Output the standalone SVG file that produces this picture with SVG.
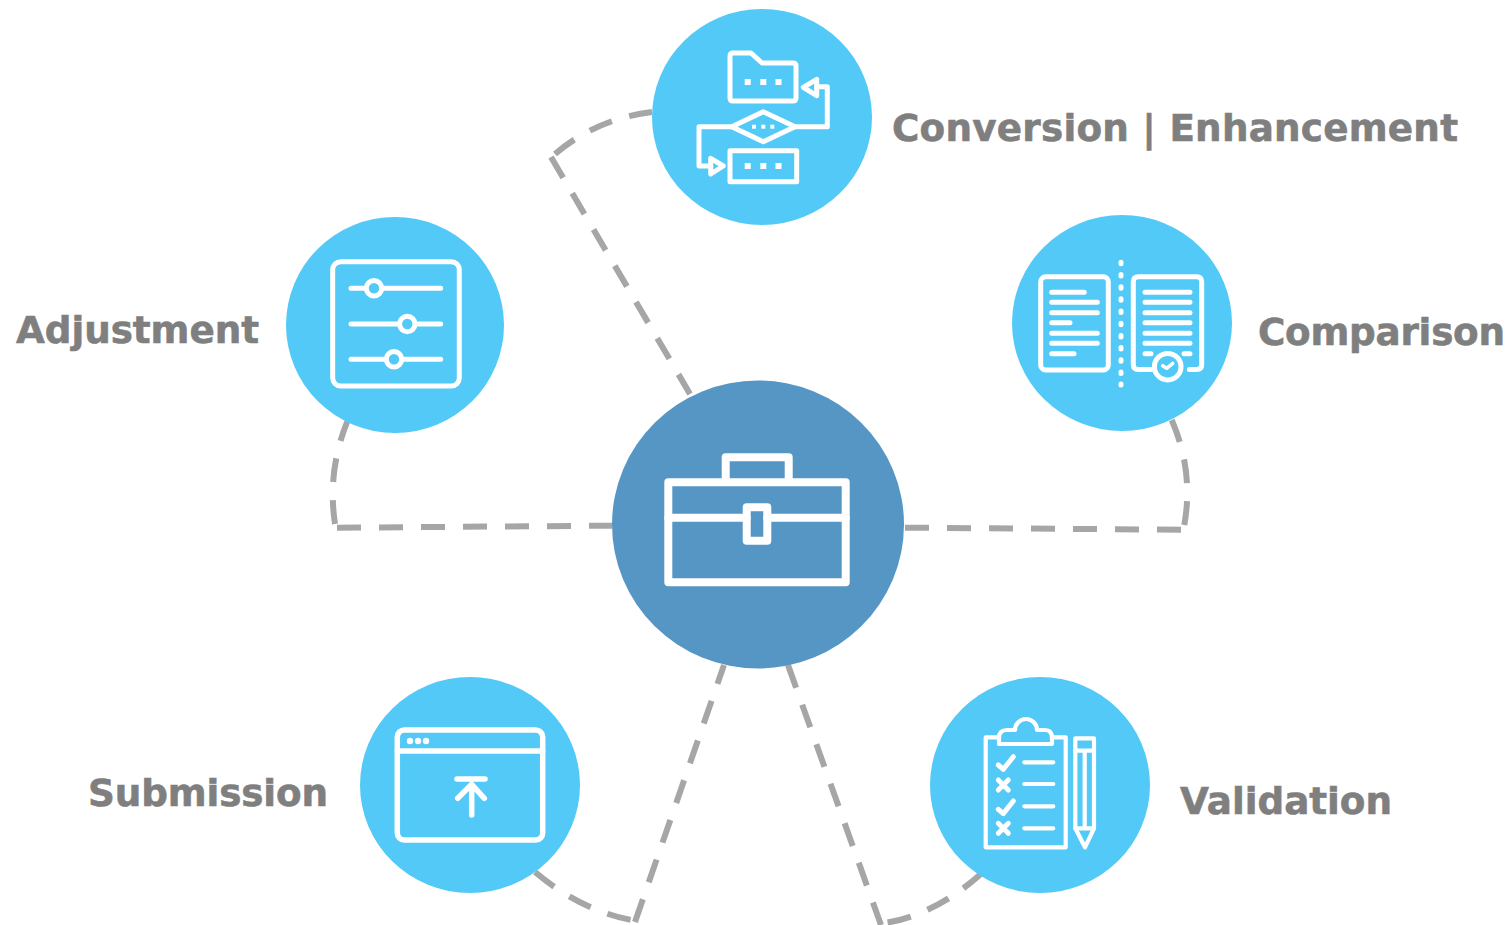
<svg xmlns="http://www.w3.org/2000/svg" width="1509" height="925" viewBox="0 0 1509 925">
<style>
.bg{fill:#fff}
.c{fill:#52c9f7}
.hub{fill:#5596c5}
.i{fill:none;stroke:#fff;stroke-width:5;stroke-linecap:round;stroke-linejoin:round}
.d{fill:#fff;stroke:none}
.t{font-family:"DejaVu Sans",Verdana,sans-serif;font-weight:700;font-size:37.3px;fill:#7f7f7f;stroke:#7f7f7f;stroke-width:.6}
.l{fill:none;stroke:#a6a6a6;stroke-width:6;stroke-dasharray:24 18}
</style>
<rect class="bg" width="1509" height="925"/>
<g id="connectors">
<path class="l" d="M551 157L690 394M555 154Q596 119 652 112"/>
<path class="l" d="M337 527.7L612 525.7M335 524Q327 471 347.3 421.7"/>
<path class="l" d="M905 527.7L1181 529.7M1184.3 525Q1194 471 1171.7 420"/>
<path class="l" d="M635 922L724 665M535 872Q580 910 631 920"/>
<path class="l" d="M881 925L788 665M982 873Q935 915 885 923"/>
</g>
<g id="hub">
<ellipse class="hub" cx="758" cy="524.5" rx="146" ry="144"/>
<g class="i" style="stroke-width:8">
<rect x="668.3" y="482.3" width="177.4" height="100"/>
<path d="M725.7 482V457.3H788.7V482"/>
<path d="M668.3 517.7H746.7M767.3 517.7H845.7"/>
<rect x="746.7" y="507.3" width="20.6" height="33.4"/>
</g>
</g>
<g id="conversion">
<ellipse class="c" cx="762" cy="117" rx="110" ry="108"/>
<g class="i">
<path d="M733 53H751L762 63H793Q796 63 796 66V98Q796 101 793 101H733Q730 101 730 98V56Q730 53 733 53Z"/>
<path d="M731.7 126.7L763.3 111.7L795 126.7L763.3 141.7Z"/>
<path d="M795 126.7H827.3V86.7H816.7"/>
<path d="M816.7 79.3L803.3 87.3L816.7 95.7Z"/>
<path d="M731.7 126.7H699V166H710.7"/>
<path d="M710.7 158.3L723.3 166L710.7 174Z"/>
<rect x="730" y="150.7" width="66.7" height="31"/>
</g>
<g class="d">
<rect x="744.7" y="79" width="6" height="6"/><rect x="760.3" y="79" width="6" height="6"/><rect x="775.5" y="79" width="6" height="6"/>
<rect x="752" y="124.7" width="4" height="4"/><rect x="761.3" y="124.7" width="4" height="4"/><rect x="770.3" y="124.7" width="4" height="4"/>
<rect x="744.7" y="163" width="6" height="6"/><rect x="760.3" y="163" width="6" height="6"/><rect x="775.5" y="163" width="6" height="6"/>
</g>
<text class="t" x="892" y="141" textLength="566" lengthAdjust="spacing">Conversion | Enhancement</text>
</g>
<g id="comparison">
<ellipse class="c" cx="1122" cy="323" rx="110" ry="108"/>
<g class="i">
<rect x="1040.7" y="276.7" width="67.6" height="93.3" rx="5"/>
<path d="M1051.7 292.3H1084.3M1051.7 302.3H1097.3M1051.7 312.7H1097.3M1051.7 322.7H1070M1051.7 333.3H1097.3M1051.7 343.3H1097.3M1051.7 353.7H1074"/>
<path d="M1153.3 369.5H1138.3Q1133.3 369.5 1133.3 364.5V281.7Q1133.3 276.7 1138.3 276.7H1196.7Q1201.7 276.7 1201.7 281.7V364.5Q1201.7 369.5 1196.7 369.5H1189.3"/>
<path d="M1145 292.3H1190M1145 302.3H1190M1145 312.7H1190M1145 322.7H1190M1145 333.3H1190M1145 343.3H1190M1145 353.7H1151M1184 353.7H1190"/>
<circle cx="1167.7" cy="366.7" r="13.3"/>
<path d="M1162.7 365.7L1166.7 368.3L1172.7 363.3" style="stroke-width:3.5"/>
<path d="M1121 262.3V385" style="stroke-dasharray:1.5 10.68"/>
</g>
<text class="t" x="1258" y="345" textLength="247" lengthAdjust="spacing">Comparison</text>
</g>
<g id="adjustment">
<ellipse class="c" cx="395" cy="325" rx="109" ry="108"/>
<g class="i">
<rect x="332.7" y="261.7" width="126.6" height="124.3" rx="8"/>
<path d="M351 288.3H440.7M351 324H440.7M351 359.3H440.7"/>
<circle cx="374" cy="288.3" r="7.7" fill="#52c9f7"/>
<circle cx="407.3" cy="324" r="7.7" fill="#52c9f7"/>
<circle cx="394" cy="359.3" r="7.7" fill="#52c9f7"/>
</g>
<text class="t" x="16" y="343" textLength="243" lengthAdjust="spacing">Adjustment</text>
</g>
<g id="submission">
<ellipse class="c" cx="470" cy="785" rx="110" ry="108"/>
<g class="i" style="stroke-width:5.5">
<rect x="397.3" y="730" width="145.4" height="110" rx="7"/>
<path d="M397.3 751H542.7"/>
<path d="M457 779H485M471.7 785V815M457.7 798.3L471.7 784.3L484.3 798.3"/>
</g>
<g class="d"><circle cx="410" cy="741" r="3.2"/><circle cx="418" cy="741" r="3.2"/><circle cx="426" cy="741" r="3.2"/></g>
<text class="t" x="88" y="806" textLength="240" lengthAdjust="spacing">Submission</text>
</g>
<g id="validation">
<ellipse class="c" cx="1040" cy="785" rx="110" ry="108"/>
<g class="i" style="stroke-width:4.2">
<path d="M999 737.3H985.7V847.3H1065.7V737.3H1052"/>
<path d="M999 744V738Q999 730 1007 730H1015A11 11 0 0 1 1037 730H1045Q1052 730 1052 738V744Z"/>
<path d="M1024.3 762.3H1053.3M1024.3 784H1053.3M1024.3 806.3H1053.3M1024.3 828.3H1053.3"/>
<path d="M1075.3 738.3H1094V828.3L1085 847.3L1075.3 828.3Z"/>
<path d="M1075.3 750.7H1094M1075.3 828.3H1094M1084.7 750.7V828.3"/>
</g>
<g class="i">
<path d="M998.3 765L1003.3 769.3L1013.3 756.7M998.3 809.3L1003.3 813.6L1013.3 801"/>
<path d="M998.3 780L1008.3 790M1008.3 780L998.3 790M998.3 823.3L1008.3 833.3M1008.3 823.3L998.3 833.3"/>
</g>
<text class="t" x="1180" y="814" textLength="212" lengthAdjust="spacing">Validation</text>
</g>
</svg>
